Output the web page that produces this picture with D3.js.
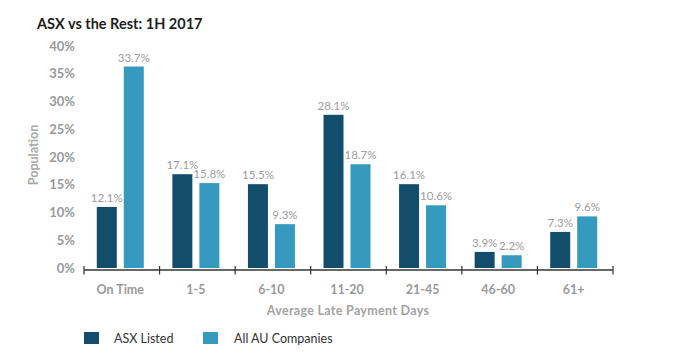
<!DOCTYPE html>
<html>
<head>
<meta charset="utf-8">
<script src="https://cdn.jsdelivr.net/npm/d3@7"></script>
<style>
  body { margin: 0; background: #fff; }
  svg { display: block; }
</style>
</head>
<body>
<svg id="chart"></svg>
<script>
const width = 681, height = 354;
const asx_color = "#124d6c", au_color = "#3699be";
const axis_color = "#333", tick_text_color = "#9a9a9a", label_color = "#9c9c9c";
const font_family = "Lato, 'Open Sans', sans-serif";

// data
const categories = ["On Time", "1-5", "6-10", "11-20", "21-45", "46-60", "61+"];
const seriesNames = ["ASX Listed", "All AU Companies"];
// bar heights as drawn in the picture (%)
const asxValues = [11.0, 16.9, 15.1, 27.6, 15.1, 2.9, 6.5];
const auValues  = [36.3, 15.3, 7.9, 18.7, 11.3, 2.3, 9.3];
// printed value labels
const asxLabels = ["12.1%", "17.1%", "15.5%", "28.1%", "16.1%", "3.9%", "7.3%"];
const auLabels  = ["33.7%", "15.8%", "9.3%", "18.7%", "10.6%", "2.2%", "9.6%"];
const yTicks = [0, 5, 10, 15, 20, 25, 30, 35, 40];

const svg = d3.select("#chart")
  .attr("width", width)
  .attr("height", height)
  .style("font-family", font_family);

const x = d3.scaleBand()
  .domain(categories)
  .range([84, 613]);

const y = d3.scaleLinear()
  .domain([0, 40])
  .range([268, 46]);

const barWidth = 20, barGap = 7;

// title
svg.append("text")
  .attr("x", 37)
  .attr("y", 29)
  .attr("font-size", 14.5)
  .attr("font-weight", "bold")
  .attr("fill", "#1e1e1e")
  .text("ASX vs the Rest: 1H 2017");

// y tick labels (no axis line)
svg.selectAll("text.ytick")
  .data(yTicks)
  .enter()
  .append("text")
  .attr("class", "ytick")
  .attr("x", 75)
  .attr("y", d => y(d) + 4.5)
  .attr("text-anchor", "end")
  .attr("font-size", 13)
  .attr("font-weight", "bold")
  .attr("fill", tick_text_color)
  .text(d => d + "%");

// y axis title
svg.append("text")
  .attr("transform", "translate(38,155) rotate(-90)")
  .attr("text-anchor", "middle")
  .attr("font-size", 12.5)
  .attr("font-weight", "bold")
  .attr("fill", "#a8a8a8")
  .text("Population");

// bars
const rows = categories.map((c, i) => ({
  cat: c,
  vals: [
    { key: 0, v: asxValues[i], label: asxLabels[i] },
    { key: 1, v: auValues[i], label: auLabels[i] }
  ]
}));

const groups = svg.selectAll("g.group")
  .data(rows)
  .enter()
  .append("g")
  .attr("class", "group")
  .attr("transform", d => `translate(${x(d.cat) + x.bandwidth() / 2 - barWidth - barGap / 2 - 1.5},0)`);

groups.selectAll("rect")
  .data(d => d.vals)
  .enter()
  .append("rect")
  .attr("x", d => d.key * (barWidth + barGap))
  .attr("y", d => y(d.v))
  .attr("width", barWidth)
  .attr("height", d => y(0) - y(d.v))
  .attr("fill", d => d.key === 0 ? asx_color : au_color);

groups.selectAll("text.val")
  .data(d => d.vals)
  .enter()
  .append("text")
  .attr("class", "val")
  .attr("x", d => d.key * (barWidth + barGap) + barWidth / 2)
  .attr("y", d => y(d.v) - 5)
  .attr("text-anchor", "middle")
  .attr("font-size", 11.5)
  .attr("fill", label_color)
  .text(d => d.label);

// x axis
const xAxis = svg.append("g");
xAxis.append("line")
  .attr("x1", x.range()[0])
  .attr("x2", x.range()[1])
  .attr("y1", 270)
  .attr("y2", 270)
  .attr("stroke", axis_color)
  .attr("stroke-width", 1.5);

const tickPositions = categories.map(c => x(c)).concat([x.range()[1]]);
xAxis.selectAll("line.tick")
  .data(tickPositions)
  .enter()
  .append("line")
  .attr("class", "tick")
  .attr("x1", d => d)
  .attr("x2", d => d)
  .attr("y1", 266)
  .attr("y2", 274.5)
  .attr("stroke", axis_color)
  .attr("stroke-width", 1.2);

xAxis.selectAll("text.xlabel")
  .data(categories)
  .enter()
  .append("text")
  .attr("class", "xlabel")
  .attr("x", d => x(d) + x.bandwidth() / 2 - 1.5)
  .attr("y", 293.5)
  .attr("text-anchor", "middle")
  .attr("font-size", 12.5)
  .attr("font-weight", "bold")
  .attr("fill", tick_text_color)
  .text(d => d);

svg.append("text")
  .attr("x", 348)
  .attr("y", 315)
  .attr("text-anchor", "middle")
  .attr("font-size", 12.5)
  .attr("font-weight", "bold")
  .attr("letter-spacing", 0.3)
  .attr("fill", "#a3a3a3")
  .text("Average Late Payment Days");

// legend
const legendX = [84, 203];
const legend = svg.selectAll("g.legend")
  .data(seriesNames)
  .enter()
  .append("g")
  .attr("class", "legend")
  .attr("transform", (d, i) => `translate(${legendX[i]},332)`);

legend.append("rect")
  .attr("width", 15)
  .attr("height", 12)
  .attr("fill", (d, i) => i === 0 ? asx_color : au_color);

legend.append("text")
  .attr("x", (d, i) => i === 0 ? 30 : 31)
  .attr("y", 11)
  .attr("font-size", 12.5)
  .attr("fill", "#333")
  .text(d => d);
</script>
</body>
</html>
